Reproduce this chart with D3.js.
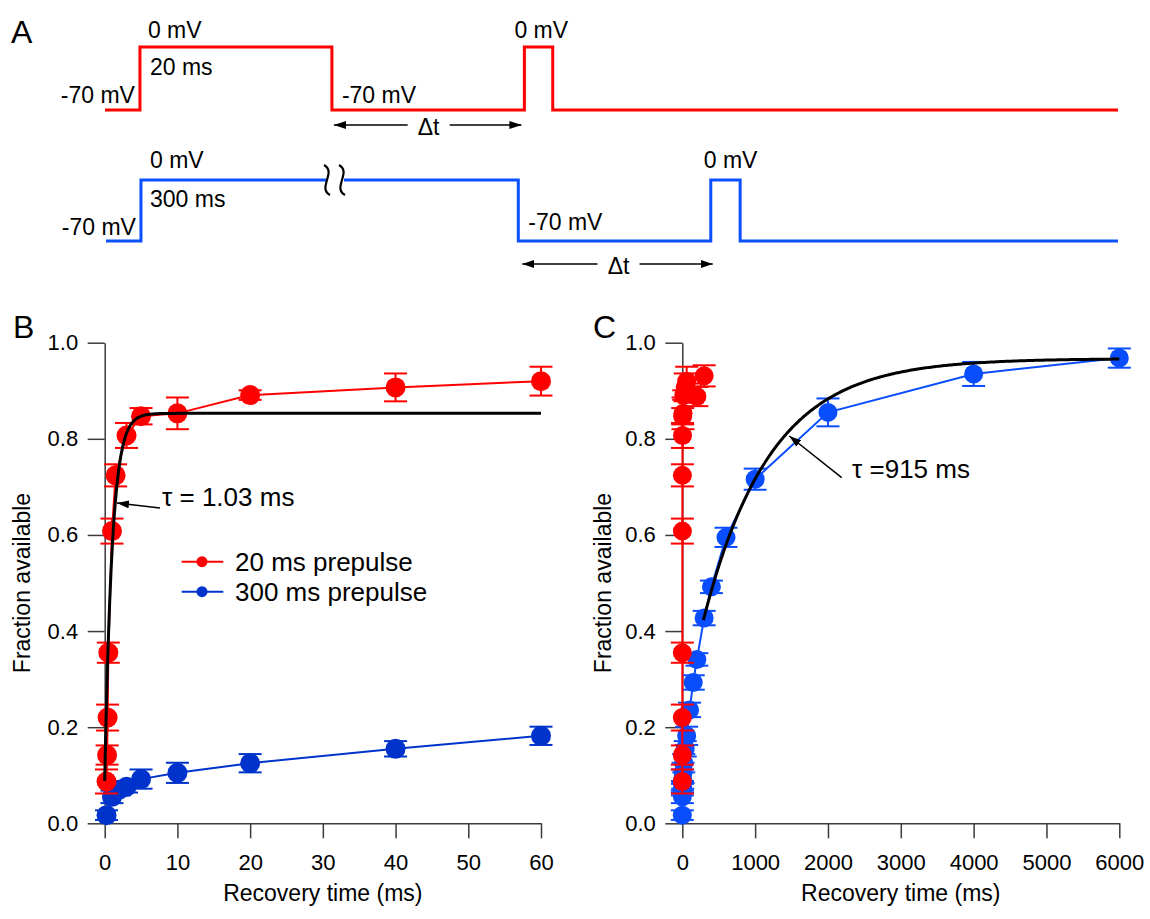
<!DOCTYPE html>
<html>
<head>
<meta charset="utf-8">
<script src="https://cdn.jsdelivr.net/npm/d3@7"></script>
<style>
  body { margin: 0; background: #fff; }
  svg text { font-family: 'Liberation Sans', Arial, sans-serif; fill: #000; }
</style>
</head>
<body>
<svg id="chart" width="1150" height="919"></svg>
<script>
// ---------------- DATA ----------------
// Recovery times (ms) and fraction available
const redTimes  = [0.25, 0.33, 0.4, 0.5, 1, 1.5, 3, 5, 10, 20, 40, 60, 100, 200, 300];
const redValues = [0.087, 0.142, 0.22, 0.355, 0.608, 0.724, 0.807, 0.847, 0.853, 0.891, 0.907, 0.920, 0.895, 0.888, 0.931];
const redErrors = [0.025, 0.02, 0.027, 0.021, 0.026, 0.023, 0.026, 0.017, 0.033, 0.01, 0.029, 0.03, 0.02, 0.02, 0.022];

const blueTimes  = [0.25, 1, 2, 3, 5, 10, 20, 40, 60, 100, 150, 200, 300, 400, 600, 1000, 2000, 4000, 6000];
const blueValues = [0.017, 0.055, 0.07, 0.076, 0.092, 0.105, 0.125, 0.155, 0.182, 0.236, 0.293, 0.341, 0.427, 0.492, 0.595, 0.716, 0.855, 0.935, 0.968];
const blueErrors = [0.01, 0.013, 0.012, 0.012, 0.02, 0.021, 0.019, 0.016, 0.019, 0.015, 0.015, 0.013, 0.015, 0.013, 0.02, 0.022, 0.029, 0.025, 0.02];

// Single-exponential fits (parameters)
const fitFast = { A: 0.853, B: 0.765, tau: 1.03, t0: 0, t1: 60 };
const fitSlow = { A: 0.967, B: 0.747, tau: 915, t0: 290, t1: 6000 };

// Tick values
const ticksY  = [0, 0.2, 0.4, 0.6, 0.8, 1.0];
const ticksXB = [0, 10, 20, 30, 40, 50, 60];
const ticksXC = [0, 1000, 2000, 3000, 4000, 5000, 6000];

// Legend
const seriesNames = ["20 ms prepulse", "300 ms prepulse"];

// Voltage protocols (schematic time units 0..100, voltage in mV)
const protoRedT  = [0, 3.45, 3.45, 22.4, 22.4, 41.4, 41.4, 44.2, 44.2, 100];
const protoRedV  = [-70, -70, 0, 0, -70, -70, 0, 0, -70, -70];
const protoBlueT = [0.1, 3.55, 3.55, 40.8, 40.8, 59.8, 59.8, 62.7, 62.7, 100];
const protoBlueV = [-70, -70, 0, 0, -70, -70, 0, 0, -70, -70];

// ---------------- STYLE ----------------
const RED = "#ff0000", BLUE_B = "#0033cc", BLUE_C = "#0a4dff", BLUE_A = "#0a50ff";
const AXIS = "#3a3a3a";

const svg = d3.select("#chart");
svg.append("rect").attr("width", 1150).attr("height", 919).attr("fill", "#fff");

// arrow markers
const defs = svg.append("defs");
defs.append("marker").attr("id", "ah").attr("viewBox", "0 0 12 8")
  .attr("refX", 12).attr("refY", 4).attr("markerWidth", 12).attr("markerHeight", 8)
  .attr("markerUnits", "userSpaceOnUse").attr("orient", "auto")
  .append("path").attr("d", "M0,0 L12,4 L0,8 Z").attr("fill", "#000");

// ---------------- PANEL A ----------------
const xA = d3.scaleLinear().domain([0, 100]).range([105, 1118]);
const yARed  = d3.scaleLinear().domain([-70, 0]).range([110, 47]);
const yABlue = d3.scaleLinear().domain([-70, 0]).range([241, 180]);

const A = svg.append("g");
A.append("text").attr("x", 11).attr("y", 43).attr("font-size", 32).text("A");

const protoLine = (ys) => d3.line().x(d => xA(d[0])).y(d => ys(d[1]));
A.append("path").datum(d3.zip(protoRedT, protoRedV))
  .attr("d", protoLine(yARed)).attr("fill", "none").attr("stroke", RED).attr("stroke-width", 3);
A.append("path").datum(d3.zip(protoBlueT, protoBlueV))
  .attr("d", protoLine(yABlue)).attr("fill", "none").attr("stroke", BLUE_A).attr("stroke-width", 3);

const fA = 23;
function lab(x, y, t, anchor) {
  A.append("text").attr("x", x).attr("y", y).attr("font-size", fA)
    .attr("text-anchor", anchor || "start").text(t);
}
// red labels
lab(xA(protoRedT[2]) + 8, yARed(0) - 9, "0 mV");
lab(xA(protoRedT[2]) + 10, yARed(0) + 28, "20 ms");
lab(xA(protoRedT[1]) - 5, yARed(-70) - 7, "-70 mV", "end");
lab(xA(protoRedT[4]) + 10, yARed(-70) - 7, "-70 mV");
lab(xA(protoRedT[6]) - 10, yARed(0) - 9, "0 mV");
// blue labels
lab(xA(protoBlueT[2]) + 9, yABlue(0) - 12, "0 mV");
lab(xA(protoBlueT[2]) + 9, yABlue(0) + 27, "300 ms");
lab(xA(protoBlueT[1]) - 5, yABlue(-70) - 6, "-70 mV", "end");
lab(xA(protoBlueT[4]) + 10, yABlue(-70) - 11, "-70 mV");
lab(xA(protoBlueT[6]) - 7, yABlue(0) - 12, "0 mV");

// break symbol on the 300 ms step
const brkY = yABlue(0);
A.append("rect").attr("x", 326).attr("y", brkY - 4).attr("width", 18).attr("height", 8).attr("fill", "#fff");
[327, 342].forEach(cx => {
  A.append("path")
    .attr("d", `M${cx - 3},${brkY - 15} C${cx + 10},${brkY - 8} ${cx - 10},${brkY + 8} ${cx + 3},${brkY + 15}`)
    .attr("fill", "none").attr("stroke", "#000").attr("stroke-width", 2.2);
});

// Δt arrows
function deltaT(xL, xR, y) {
  const cx = (xL + xR) / 2;
  A.append("line").attr("x1", cx - 20).attr("x2", xL).attr("y1", y).attr("y2", y)
    .attr("stroke", "#000").attr("stroke-width", 1.5).attr("marker-end", "url(#ah)");
  A.append("line").attr("x1", cx + 22).attr("x2", xR).attr("y1", y).attr("y2", y)
    .attr("stroke", "#000").attr("stroke-width", 1.5).attr("marker-end", "url(#ah)");
  A.append("text").attr("x", cx + 1).attr("y", y + 10).attr("font-size", fA)
    .attr("text-anchor", "middle").text("\u0394t");
}
deltaT(xA(protoRedT[4]) + 2, xA(protoRedT[6]) - 3, 125);
deltaT(xA(protoBlueT[4]) + 4, xA(protoBlueT[6]) + 2, 264);

// ---------------- PANELS B & C ----------------
const yScale = d3.scaleLinear().domain([0, 1]).range([823.3, 342.7]);
const xB = d3.scaleLinear().domain([0, 60]).range([104.7, 541]);
const xC = d3.scaleLinear().domain([0, 6000]).range([682.3, 1119.3]);

function axes(g, xs, xticks, letterX, titleX) {
  const ax = g.append("g").attr("transform", `translate(0,${yScale(0)})`)
    .call(d3.axisBottom(xs).tickValues(xticks).tickSize(15).tickSizeOuter(0).tickPadding(16).tickFormat(d3.format("d")));
  const ay = g.append("g").attr("transform", `translate(${xs(0)},0)`)
    .call(d3.axisLeft(yScale).tickValues(ticksY).tickSize(17).tickSizeOuter(0).tickPadding(9.5).tickFormat(d3.format(".1f")));
  [ax, ay].forEach(a => {
    a.selectAll("path.domain").attr("stroke", AXIS).attr("stroke-width", 1.5);
    a.selectAll(".tick line").attr("stroke", AXIS).attr("stroke-width", 1.5);
    a.selectAll(".tick text").attr("font-size", 22).attr("fill", "#000")
      .attr("font-family", "'Liberation Sans', Arial, sans-serif");
  });
  g.append("text").attr("x", (xs.range()[0] + xs.range()[1]) / 2).attr("y", 901)
    .attr("font-size", 23).attr("text-anchor", "middle").text("Recovery time (ms)");
  g.append("text").attr("transform", `translate(${titleX},583) rotate(-90)`)
    .attr("font-size", 23).attr("text-anchor", "middle").attr("dy", "0.35em").text("Fraction available");
  g.append("text").attr("x", letterX).attr("y", 338).attr("font-size", 32).text(letterX < 300 ? "B" : "C");
}

function series(g, xs, times, values, errors, color, tmax, r) {
  const pts = d3.range(times.length).filter(i => times[i] <= tmax)
    .map(i => ({ t: times[i], v: values[i], e: errors[i] }));
  g.append("path").datum(pts)
    .attr("d", d3.line().x(d => xs(d.t)).y(d => yScale(d.v)))
    .attr("fill", "none").attr("stroke", color).attr("stroke-width", 2);
  const eb = g.append("g").attr("stroke", color).attr("stroke-width", 2);
  pts.forEach(d => {
    const x = xs(d.t), y1 = yScale(d.v - d.e), y2 = yScale(d.v + d.e);
    eb.append("line").attr("x1", x).attr("x2", x).attr("y1", y1).attr("y2", y2);
    eb.append("line").attr("x1", x - 11.5).attr("x2", x + 11.5).attr("y1", y1).attr("y2", y1);
    eb.append("line").attr("x1", x - 11.5).attr("x2", x + 11.5).attr("y1", y2).attr("y2", y2);
  });
  g.append("g").selectAll("circle").data(pts).join("circle")
    .attr("cx", d => xs(d.t)).attr("cy", d => yScale(d.v)).attr("r", r).attr("fill", color);
}

function fitCurve(g, xs, f) {
  const n = 400;
  const ts = d3.range(n + 1).map(i => f.t0 + (f.t1 - f.t0) * Math.pow(i / n, 2.2));
  g.append("path").datum(ts)
    .attr("d", d3.line().x(t => xs(t)).y(t => yScale(f.A - f.B * Math.exp(-t / f.tau))))
    .attr("fill", "none").attr("stroke", "#000").attr("stroke-width", 3);
}

// Panel B
const B = svg.append("g");
axes(B, xB, ticksXB, 13, 22);
series(B, xB, blueTimes, blueValues, blueErrors, BLUE_B, 60, 10);
series(B, xB, redTimes, redValues, redErrors, RED, 60, 10);
fitCurve(B, xB, fitFast);
B.append("line").attr("x1", 160).attr("y1", 508).attr("x2", 117).attr("y2", 503)
  .attr("stroke", "#000").attr("stroke-width", 1.5).attr("marker-end", "url(#ah)");
B.append("text").attr("x", 162).attr("y", 506).attr("font-size", 26).text("\u03C4 = 1.03 ms");

// legend
const leg = B.append("g");
[[RED, 561.7], [BLUE_B, 591.7]].forEach((c, i) => {
  leg.append("line").attr("x1", 181.7).attr("x2", 223.3).attr("y1", c[1]).attr("y2", c[1])
    .attr("stroke", c[0]).attr("stroke-width", 2);
  leg.append("circle").attr("cx", 202).attr("cy", c[1]).attr("r", 5.5).attr("fill", c[0]);
  leg.append("text").attr("x", 235).attr("y", c[1] + 9.3).attr("font-size", 26).text(seriesNames[i]);
});

// Panel C (blue drawn first, red on top as in the reference)
const C = svg.append("g");
axes(C, xC, ticksXC, 593, 603);
series(C, xC, blueTimes, blueValues, blueErrors, BLUE_C, 6000, 9.5);
series(C, xC, redTimes, redValues, redErrors, RED, 6000, 9.5);
fitCurve(C, xC, fitSlow);
C.append("line").attr("x1", 841.7).attr("y1", 477.7).attr("x2", 789.3).attr("y2", 436)
  .attr("stroke", "#000").attr("stroke-width", 1.5).attr("marker-end", "url(#ah)");
C.append("text").attr("x", 852).attr("y", 477.6).attr("font-size", 26).text("\u03C4 =915 ms");
</script>
</body>
</html>
